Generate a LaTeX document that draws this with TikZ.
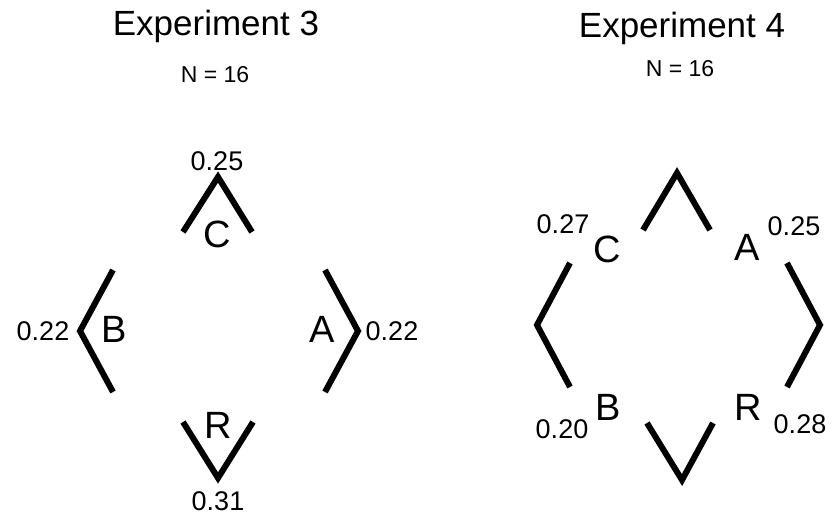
\documentclass[tikz,border=0pt]{standalone}
\usepackage{fontspec}
\setmainfont{Liberation Sans}
\tikzset{
	chevron/.style = {line width = 6pt, line join = miter},
	heading/.style = {anchor = base, font = \fontsize{35}{40}\selectfont},
	count/.style = {anchor = base, font = \fontsize{23}{27}\selectfont},
	letter/.style = {anchor = base, inner sep = 0pt, font = \fontsize{38}{42}\selectfont},
	share/.style = {anchor = base, inner sep = 0pt, font = \fontsize{27}{30}\selectfont}
}
\begin{document}
\begin{tikzpicture} [x = 1pt, y = -1pt]
	\useasboundingbox (0,0) rectangle (832,517);
	% Experiment 3
	\node [heading] (title3) at (216,35) {Experiment 3};
	\node [count] (n3) at (215,82) {N = 16};
	\draw [chevron] (183,232) -- (218,177) -- (252,232);
	\draw [chevron] (113,270) -- (80,331) -- (113,392);
	\draw [chevron] (325,270) -- (358,331) -- (325,392);
	\draw [chevron] (183,422) -- (218,478) -- (253,422);
	\node [letter] (c3) at (217,247) {C};
	\node [letter] (b3) at (114,342) {B};
	\node [letter] (a3) at (322,342) {A};
	\node [letter] (r3) at (218,438) {R};
	\node [share] (pc3) at (217,170) {0.25};
	\node [share] (pb3) at (43,340) {0.22};
	\node [share] (pa3) at (392,340) {0.22};
	\node [share] (pr3) at (218,510) {0.31};
	% Experiment 4
	\node [heading] (title4) at (682,37) {Experiment 4};
	\node [count] (n4) at (680,76) {N = 16};
	\draw [chevron] (643,230) -- (677,173) -- (710,230);
	\draw [chevron] (570,263) -- (537,325) -- (570,387);
	\draw [chevron] (787,263) -- (820,325) -- (787,387);
	\draw [chevron] (647,423) -- (682,480) -- (713,423);
	\node [letter] (c4) at (607,262) {C};
	\node [letter] (a4) at (747,260) {A};
	\node [letter] (b4) at (608,420) {B};
	\node [letter] (r4) at (748,420) {R};
	\node [share] (pc4) at (563,233) {0.27};
	\node [share] (pa4) at (794,235) {0.25};
	\node [share] (pb4) at (562,438) {0.20};
	\node [share] (pr4) at (800,433) {0.28};
\end{tikzpicture}
\end{document}
